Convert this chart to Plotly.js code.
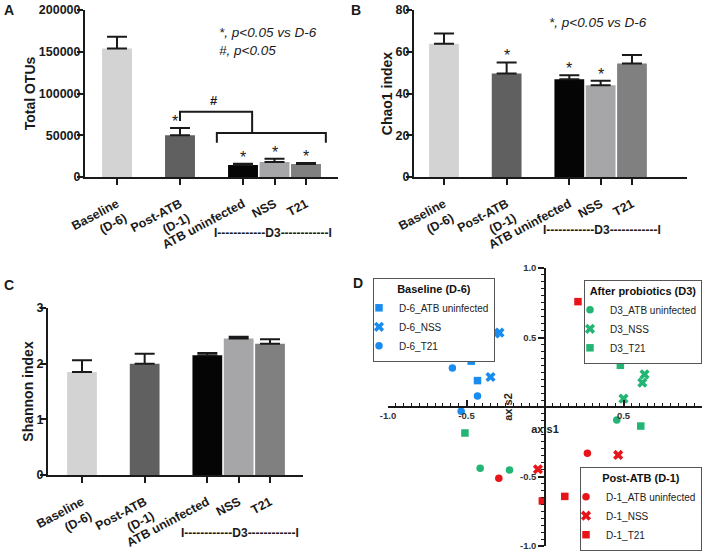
<!DOCTYPE html>
<html><head><meta charset="utf-8">
<script src="https://cdn.plot.ly/plotly-3.0.1.min.js"></script>
<style>html,body{margin:0;padding:0;background:#fff;} #chart{width:708px;height:552px;}</style>
</head><body><div id="chart"></div>
<script>
// ---------- data ----------
const categories = ['Baseline<br>(D-6)', 'Post-ATB<br>(D-1)', 'ATB uninfected', 'NSS', 'T21'];
const otuMean = [154000, 50000, 14400, 18000, 15600];
const otuSem = [14000, 8800, 1600, 4000, 1200];
const otuSig = ['', '*', '*', '*', '*'];
const chaoMean = [63.8, 49.6, 46.8, 44.0, 54.4];
const chaoSem = [5.0, 5.3, 2.0, 2.1, 4.0];
const chaoSig = ['', '*', '*', '*', ''];
const shannonMean = [1.85, 2.00, 2.15, 2.45, 2.36];
const shannonSem = [0.21, 0.18, 0.04, 0.035, 0.08];
const shannonSig = ['', '', '', '', ''];

// PCoA coordinates
const d6AtbX = [-0.387, -0.47, -0.43], d6AtbY = [0.412, 0.33, 0.19];
const d6NssX = [-0.318, -0.29, -0.347], d6NssY = [0.53, 0.535, 0.216];
const d6T21X = [-0.59, -0.43, -0.534], d6T21Y = [0.28, 0.08, -0.03];
const d3AtbX = [0.457, -0.413, -0.226], d3AtbY = [-0.094, -0.44, -0.453];
const d3NssX = [0.634, 0.62, 0.5], d3NssY = [0.235, 0.175, 0.06];
const d3T21X = [0.48, 0.61, -0.51], d3T21Y = [0.30, -0.137, -0.187];
const d1AtbX = [0.27, 0.313, -0.294], d1AtbY = [-0.333, -0.484, -0.513];
const d1NssX = [0.466, 0.36, -0.045], d1NssY = [-0.345, -0.503, -0.448];
const d1T21X = [0.21, 0.126, -0.017], d1T21Y = [0.758, -0.643, -0.676];

const pcoaTicks = [-1.0, -0.5, 0.5, 1.0];

// ---------- styles ----------
const W = 708, H = 552;
const FONT = 'Liberation Sans, Arial, Helvetica, sans-serif';
const INK = '#1a1a1a';
const barColors = ['#d3d3d3', '#606060', '#050505', '#a6a6a8', '#808080'];
const BLUE = '#1a8cf0', GREEN = '#22b573', RED = '#e8141a';
const slots = [categories[0], ' ', categories[1], '  ', categories[2], categories[3], categories[4]];

function px2x(a, b) { return [a / W, b / W]; }
function px2y(top, bottom) { return [1 - bottom / H, 1 - top / H]; }

function barX(domain, range, anchor) {
  return {domain, range, anchor, type: 'category', categoryorder: 'array', categoryarray: slots,
    tickmode: 'array', tickvals: categories, ticktext: categories, tickangle: -28,
    ticks: 'outside', ticklen: 6, tickwidth: 2, tickcolor: INK, showline: true, linewidth: 2,
    linecolor: INK, showgrid: false, zeroline: false, ticklabelstandoff: 7,
    tickfont: {size: 12.5, weight: 'bold', color: INK, family: FONT}, fixedrange: true};
}
function barY(domain, range, dtick, title, anchor, fmt) {
  return {domain, range, anchor, dtick, tickformat: fmt, ticks: 'outside', ticklen: 6, tickwidth: 2,
    tickcolor: INK, showline: true, linewidth: 2, linecolor: INK, showgrid: false, zeroline: false,
    ticklabelstandoff: -6,
    tickfont: {size: 12.5, weight: 'bold', color: INK, family: FONT},
    title: {text: title, font: {size: 14, weight: 'bold', color: INK, family: FONT}, standoff: 0},
    fixedrange: true};
}
function barTrace(mean, sem, xa, ya) {
  return {type: 'bar', x: categories, y: mean, xaxis: xa, yaxis: ya, showlegend: false,
    marker: {color: barColors, line: {width: 0}},
    error_y: {type: 'data', symmetric: false, array: sem, arrayminus: sem.map(() => 0),
      color: INK, thickness: 2, width: 10}, hoverinfo: 'x+y'};
}
function stars(mean, sem, sig, xref, yref, shifts) {
  const out = [];
  sig.forEach((s, i) => {
    if (s) out.push({xref, yref, x: categories[i], y: mean[i] + sem[i], text: s, showarrow: false,
      xanchor: 'center', yanchor: 'bottom', yshift: -4, xshift: (shifts && shifts[i]) || 0,
      font: {size: 16, color: INK, family: FONT}});
  });
  return out;
}
function pt(x, y, name, color, symbol, legend) {
  return {type: 'scatter', mode: 'markers', x, y, name, xaxis: 'x4', yaxis: 'y4', legend,
    marker: {color, symbol, size: symbol === 'x' ? 9 : 7.5, line: {width: 0}}};
}

const domA = {x: px2x(85, 338), y: px2y(10, 177)};
const domB = {x: px2x(414, 687), y: px2y(10, 177)};
const domC = {x: px2x(48, 303), y: px2y(308, 475)};
const domD = {x: px2x(388, 702), y: px2y(268, 546)};

const traces = [
  barTrace(otuMean, otuSem, 'x', 'y'),
  barTrace(chaoMean, chaoSem, 'x2', 'y2'),
  barTrace(shannonMean, shannonSem, 'x3', 'y3'),
  pt(d6AtbX, d6AtbY, 'D-6_ATB uninfected', BLUE, 'square', 'legend'),
  pt(d6NssX, d6NssY, 'D-6_NSS', BLUE, 'x', 'legend'),
  pt(d6T21X, d6T21Y, 'D-6_T21', BLUE, 'circle', 'legend'),
  pt(d3AtbX, d3AtbY, 'D3_ATB uninfected', GREEN, 'circle', 'legend2'),
  pt(d3NssX, d3NssY, 'D3_NSS', GREEN, 'x', 'legend2'),
  pt(d3T21X, d3T21Y, 'D3_T21', GREEN, 'square', 'legend2'),
  pt(d1AtbX, d1AtbY, 'D-1_ATB uninfected', RED, 'circle', 'legend3'),
  pt(d1NssX, d1NssY, 'D-1_NSS', RED, 'x', 'legend3'),
  pt(d1T21X, d1T21Y, 'D-1_T21', RED, 'square', 'legend3')
];

const dTickFont = {size: 9.5, weight: 'bold', color: '#333', family: FONT};
const dTitleFont = {size: 11, weight: 'bold', color: '#222', family: FONT};
const xZeroPos = (domD.y[0] + domD.y[1]) / 2;
const yZeroPos = (domD.x[0] + domD.x[1]) / 2;

function legendBox(x, y, xanchor, yanchor, title) {
  return {x, y, xanchor, yanchor, bgcolor: '#fff', bordercolor: '#555', borderwidth: 1,
    font: {size: 10, color: '#222', family: FONT}, itemclick: false, itemdoubleclick: false,
    title: {text: title, side: 'top center', font: {size: 11, weight: 'bold', color: '#111', family: FONT}},
    tracegroupgap: 0, indentation: -15, itemwidth: 30};
}

const bracket = {type: 'path', xref: 'x', yref: 'y', line: {color: INK, width: 2}};
const shapes = [
  Object.assign({}, bracket, {path: 'M 2,67000 L 2,78000 L 4.29,78000 L 4.29,52700'}),
  Object.assign({}, bracket, {path: 'M 3.17,41000 L 3.17,52700 L 6.63,52700 L 6.63,41000'})
];

function paperText(text, x, y, opts) {
  return Object.assign({xref: 'paper', yref: 'paper', x: x / W, y: 1 - y / H, text, showarrow: false,
    xanchor: 'center', yanchor: 'middle',
    font: {size: 12, weight: 'bold', color: INK, family: FONT}}, opts || {});
}
const d3Label = 'I------------D3------------I';
const letterFont = {size: 14, weight: 'bold', color: INK, family: FONT};
const noteFont = {size: 13.5, style: 'italic', color: INK, family: FONT};
const annotations = [
  ...stars(otuMean, otuSem, otuSig, 'x', 'y', [0, -5, 0, 0, 0]),
  ...stars(chaoMean, chaoSem, chaoSig, 'x2', 'y2'),
  ...stars(shannonMean, shannonSem, shannonSig, 'x3', 'y3'),
  {xref: 'x', yref: 'y', x: 3.08, y: 80000, text: '#', showarrow: false, xanchor: 'center', yanchor: 'bottom',
    font: {size: 13, weight: 'bold', color: INK, family: FONT}},
  paperText('*, p<0.05 vs D-6<br>#, p<0.05', 217, 41, {xanchor: 'left', align: 'left', font: noteFont}),
  paperText('*, p<0.05 vs D-6', 547, 23, {xanchor: 'left', font: noteFont}),
  paperText(d3Label, 273, 233),
  paperText(d3Label, 602, 230),
  paperText(d3Label, 240, 533),
  paperText('A', 9, 10, {font: letterFont}),
  paperText('B', 356, 10, {font: letterFont}),
  paperText('C', 9, 285, {font: letterFont}),
  paperText('D', 358, 283, {font: letterFont})
];

const layout = {
  width: W, height: H, margin: {l: 0, r: 0, t: 0, b: 0, pad: 0},
  paper_bgcolor: '#fff', plot_bgcolor: 'rgba(0,0,0,0)',
  font: {family: FONT, color: INK}, bargap: 0.05, showlegend: true, hovermode: 'closest',
  xaxis: barX(domA.x, [-1.016, 7.016], 'y'),
  yaxis: barY(domA.y, [0, 200000], 50000, 'Total OTUs', 'x', 'd'),
  xaxis2: barX(domB.x, [-0.957, 7.756], 'y2'),
  yaxis2: barY(domB.y, [0, 80], 20, 'Chao1 index', 'x2', 'd'),
  xaxis3: barX(domC.x, [-1.085, 7.053], 'y3'),
  yaxis3: barY(domC.y, [0, 3], 1, 'Shannon index', 'x3', 'd'),
  xaxis4: {domain: domD.x, range: [-1, 1], anchor: 'free', position: xZeroPos, side: 'bottom',
    showline: true, linewidth: 1.5, linecolor: INK, showgrid: false, zeroline: false,
    tickmode: 'array', tickvals: pcoaTicks, ticktext: pcoaTicks.map(v => v.toFixed(1)),
    ticks: 'inside', ticklen: 6, tickwidth: 1.5, tickcolor: INK, tickfont: dTickFont,
    minor: {tickmode: 'linear', tick0: 0, dtick: 0.05, ticks: 'inside', ticklen: 3, tickwidth: 1, tickcolor: INK},
    title: {text: 'axis1', font: dTitleFont, standoff: 4}, fixedrange: true},
  yaxis4: {domain: domD.y, range: [-1, 1], anchor: 'free', position: yZeroPos, side: 'left',
    showline: true, linewidth: 1.5, linecolor: INK, showgrid: false, zeroline: false,
    tickmode: 'array', tickvals: pcoaTicks, ticktext: pcoaTicks.map(v => v.toFixed(1)),
    ticks: 'outside', ticklen: 6, tickwidth: 1.5, tickcolor: INK, tickfont: dTickFont,
    minor: {tickmode: 'linear', tick0: 0, dtick: 0.05, ticks: 'outside', ticklen: 3, tickwidth: 1, tickcolor: INK},
    title: {text: 'axis2', font: dTitleFont, standoff: 4}, fixedrange: true},
  legend: legendBox(373 / W, 1 - 278 / H, 'left', 'top', 'Baseline (D-6)'),
  legend2: legendBox(702 / W, 1 - 280 / H, 'right', 'top', 'After probiotics (D3)'),
  legend3: legendBox(702 / W, 0.002, 'right', 'bottom', 'Post-ATB (D-1)'),
  shapes, annotations
};

Plotly.newPlot('chart', traces, layout, {displayModeBar: false, responsive: false});
</script>
</body></html>
